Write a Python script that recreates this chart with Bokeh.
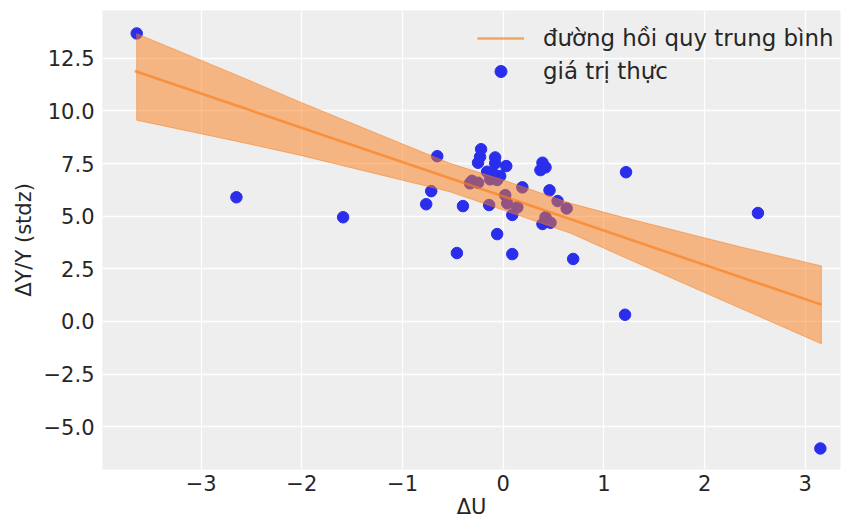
from bokeh.plotting import figure
from bokeh.models import Range1d, FixedTicker, Legend, LegendItem
from bokeh.embed import file_html
from bokeh.resources import INLINE

# observed data: ΔU (x) and ΔY/Y standardized (y)
du = [-3.64, -2.65, -1.59, -0.655, -0.715, -0.765, -0.40, -0.46, -0.06, 0.09,
      0.695, 1.21, 1.22, 2.53, 3.15, -0.22, -0.23, -0.25, -0.08, -0.08,
      0.03, 0.39, 0.37, 0.42, -0.16, -0.10, -0.03, -0.13, -0.06, -0.31,
      -0.25, -0.33, 0.19, 0.46, 0.02, 0.04, -0.14, 0.14, 0.09, 0.54,
      0.63, 0.42, 0.39, 0.47]
dy = [13.68, 5.90, 4.95, 7.85, 6.19, 5.57, 5.48, 3.25, 4.15, 3.20,
      2.97, 0.32, 7.09, 5.15, -6.03, 8.18, 7.82, 7.54, 7.79, 7.51,
      7.38, 7.54, 7.19, 7.32, 7.11, 7.03, 6.91, 6.75, 6.72, 6.68,
      6.59, 6.56, 6.37, 6.23, 6.00, 5.61, 5.53, 5.42, 5.06, 5.72,
      5.37, 4.95, 4.63, 4.69]

# mean regression line end points
line_x = [-3.66, 3.16]
line_y = [11.90, 0.80]

# HDI band
band_x = [-3.64, -2.65, -2.02, -0.53, 0.0, 0.67, 1.22, 2.35, 3.16]
band_hi = [13.67, 11.71, 10.43, 7.51, 6.72, 5.61, 4.91, 3.55, 2.64]
band_lo = [9.56, 8.56, 7.90, 6.16, 5.29, 4.19, 3.01, 0.64, -1.06]

x_ticks = [-3, -2, -1, 0, 1, 2, 3]
y_ticks = [-5.0, -2.5, 0.0, 2.5, 5.0, 7.5, 10.0, 12.5]

BLUE = "#2a2eec"
ORANGE = "#fa7c17"
TXT = "#262626"
FONT = "DejaVu Sans"

p = figure(width=844, height=521, output_backend="svg", toolbar_location=None,
           x_range=Range1d(-3.98, 3.35), y_range=Range1d(-7.03, 14.77),
           min_border_left=102, min_border_right=4, min_border_top=10,
           min_border_bottom=51)
p.background_fill_color = "#eeeeee"
p.border_fill_color = "white"
p.outline_line_color = None

for g in (p.xgrid, p.ygrid):
    g.grid_line_color = "white"
    g.grid_line_width = 1.3
p.xgrid.ticker = FixedTicker(ticks=x_ticks)
p.ygrid.ticker = FixedTicker(ticks=y_ticks)

def fmt(v, dec):
    s = f"{abs(v):.{dec}f}"
    return ("\u2212" + s) if v < 0 else s

p.xaxis.ticker = FixedTicker(ticks=x_ticks)
p.yaxis.ticker = FixedTicker(ticks=y_ticks)
p.xaxis.major_label_overrides = {t: fmt(t, 0) for t in x_ticks}
p.yaxis.major_label_overrides = {t: fmt(t, 1) for t in y_ticks}
p.xaxis.axis_label = "\u0394U"
p.yaxis.axis_label = "\u0394Y/Y (stdz)"
for ax in (p.xaxis, p.yaxis):
    ax.axis_line_color = None
    ax.major_tick_line_color = None
    ax.minor_tick_line_color = None
    ax.major_tick_out = 0
    ax.major_tick_in = 0
    ax.major_label_text_font = FONT
    ax.major_label_text_font_size = "21px"
    ax.major_label_text_color = TXT
    ax.axis_label_text_font = FONT
    ax.axis_label_text_font_size = "21px"
    ax.axis_label_text_font_style = "normal"
    ax.axis_label_text_color = TXT
p.yaxis.major_label_standoff = 8
p.yaxis.axis_label_standoff = 5
p.xaxis.major_label_standoff = 5
p.xaxis.axis_label_standoff = 1

pts = p.scatter(du, dy, size=11.5, fill_color=BLUE, line_color=BLUE, fill_alpha=1.0)

poly_x = band_x + band_x[::-1]
poly_y = band_hi + band_lo[::-1]
p.patch(poly_x, poly_y, fill_color=ORANGE, fill_alpha=0.5,
        line_color=ORANGE, line_alpha=0.5, line_width=1)

ln = p.line(line_x, line_y, line_color=ORANGE, line_alpha=0.65, line_width=2.6)

legend = Legend(items=[LegendItem(label="đường hồi quy trung bình", renderers=[ln]),
                       LegendItem(label="giá trị thực", renderers=[pts])],
                location=(375, 383))
legend.background_fill_alpha = 0
legend.border_line_color = None
legend.label_text_font = FONT
legend.label_text_font_size = "22.9px"
legend.label_text_color = TXT
legend.glyph_width = 47
legend.glyph_height = 30
legend.label_height = 30
legend.label_standoff = 19
legend.spacing = 3
legend.padding = 5
legend.margin = 0
p.add_layout(legend)

open("out.html", "w").write(file_html(p, INLINE))
